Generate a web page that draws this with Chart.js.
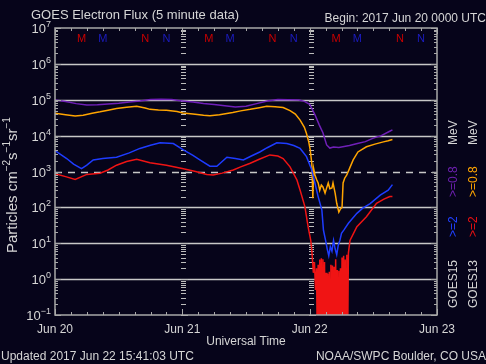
<!DOCTYPE html>
<html>
<head>
<meta charset="utf-8">
<script src="https://cdn.jsdelivr.net/npm/chart.js@4"></script>
<style>
  html, body { margin: 0; padding: 0; background: #06041a; }
  canvas { display: block; }
</style>
</head>
<body>
<canvas id="myChart" width="486" height="364"></canvas>
<script>
// time axis is hours since 2017 Jun 20 0000 UT
var dayLabels = ['Jun 20', 'Jun 21', 'Jun 22', 'Jun 23'];
var decades = [-1, 0, 1, 2, 3, 4, 5, 6, 7];

// GOES15 >=0.8 MeV
var purpleHours = [0, 2, 4, 6, 8, 10, 12, 14, 16, 18, 20, 22, 24, 26, 28, 30, 32, 34, 36, 38, 40, 42, 44, 46, 47, 48, 49, 49.8, 50.5, 51.2, 51.8, 52.5, 53.5, 54.5, 55.5, 57, 58.5, 60, 61.5, 63, 63.6];
var purpleFlux = [98000, 90000, 78000, 71000, 72000, 76000, 80000, 86000, 92000, 102000, 104000, 101000, 93000, 86000, 79000, 74000, 68000, 63000, 66000, 78000, 92000, 102000, 100000, 98000, 90000, 75000, 38000, 20000, 12000, 5500, 4500, 4800, 4700, 5000, 5300, 6000, 6800, 8500, 10000, 13000, 14500];

// GOES13 >=0.8 MeV
var orangeHours = [0, 2, 3.8, 5.3, 7, 8.5, 10, 11.6, 13.5, 15.4, 17, 17.9, 19.5, 21, 23, 24.1, 26, 28, 29.2, 31, 33.5, 35, 36.8, 38.5, 39.9, 41.5, 43, 44.3, 45.3, 46.2, 47, 47.4, 47.8, 48.1, 48.4, 48.6, 48.75, 49.0, 49.3, 49.6, 49.9, 50.2, 50.5, 50.9, 51.2, 51.5, 51.8, 52.2, 52.4, 52.8, 53.1, 53.5, 53.8, 54.1, 54.3, 54.6, 55, 55.6, 56.2, 57.1, 58.7, 60.3, 61.9, 62.8, 63.6];
var orangeFlux = [42000, 38000, 35000, 37000, 42000, 46000, 51000, 57000, 62000, 66000, 59000, 54000, 52000, 51000, 47000, 43000, 40000, 37000, 36000, 38000, 44000, 49000, 54000, 60000, 66000, 64000, 61000, 50000, 40000, 27000, 17000, 11500, 7000, 4000, 1700, 180, 1200, 800, 600, 480, 300, 420, 370, 250, 350, 480, 330, 350, 480, 250, 130, 74, 90, 100, 480, 650, 800, 1300, 2100, 3500, 4900, 5800, 6700, 7200, 7800];

// GOES15 >=2 MeV
var blueHours = [0, 2.2, 3.5, 5, 6, 7.2, 9, 11.6, 14, 16, 18, 19.8, 22.3, 24.2, 26, 27.3, 29.2, 30.5, 32.4, 34, 35.5, 37, 38.6, 40, 41.8, 43.7, 45, 46.2, 47.4, 48.4, 49, 49.6, 50.3, 50.6, 51.0, 51.3, 51.6, 51.9, 52.2, 52.5, 52.8, 53.1, 53.4, 53.7, 54, 54.5, 55.3, 56.9, 58, 59.4, 61.3, 62.8, 63.6];
var blueFlux = [3800, 2300, 1600, 1200, 1500, 2100, 2300, 2500, 3300, 4400, 5400, 6300, 6000, 4000, 2800, 2100, 1400, 1400, 2500, 2300, 2100, 2700, 3500, 4600, 6300, 6000, 5300, 4400, 2600, 1100, 470, 200, 84, 23, 12, 7, 4.5, 8, 6, 12, 7, 4.8, 9, 12, 19, 24, 36, 68, 95, 128, 220, 300, 430];

// GOES13 >=2 MeV (drops below the axis floor during the dropout)
var redHours = [0, 2, 3.8, 6, 8.5, 10, 11.6, 13.5, 15.4, 17.9, 21, 24.2, 26.5, 28.6, 29.8, 31.5, 33.6, 35, 36.8, 38.5, 40.5, 42, 43, 44.3, 45.6, 46.2, 47.1, 47.7, 48.2, 48.4, 48.7, 48.9, 49.1, 49.3, 49.45,
  49.6, 49.75, 49.9, 50.05, 50.2, 50.35, 50.5, 50.65, 50.8, 50.95, 51.1, 51.25, 51.4, 51.55, 51.7, 51.85, 52.0, 52.15, 52.3, 52.45, 52.6, 52.75, 52.9, 53.05, 53.2, 53.35, 53.5, 53.65, 53.8, 53.95, 54.1, 54.25, 54.4, 54.55, 54.7, 54.85, 55.0, 55.15,
  55.3, 55.6, 56.9, 58.7, 60.6, 62, 63.1, 63.6];
var redFlux = [860, 720, 600, 830, 890, 1100, 1500, 1900, 2200, 1750, 1500, 1200, 1000, 830, 800, 900, 1100, 1350, 1700, 2200, 2900, 2700, 2300, 1350, 580, 300, 105, 29, 12, 6.5, 1.5, 3.0, 0.5, 2.0, 0.01,
  2.5, 0.01, 3.5, 0.01, 3.8, 0.01, 3.6, 0.01, 3.0, 0.01, 1.5, 0.01, 1.4, 0.01, 1.6, 0.01, 2.5, 0.01, 2.4, 0.01, 2.2, 0.01, 3.6, 0.01, 1.8, 0.01, 1.7, 0.01, 2.0, 0.01, 4.0, 0.01, 4.5, 0.01, 3.5, 0.01, 4.8, 0.01,
  5.3, 12, 29, 55, 130, 170, 200, 200];

// local midnight / noon markers (GOES13 red, GOES15 blue)
var markerHours = [5, 9, 17, 21, 29, 33, 41, 45, 53, 57, 65, 69];
var markerText = ['M', 'M', 'N', 'N', 'M', 'M', 'N', 'N', 'M', 'M', 'N', 'N'];
var markerSat = [13, 15, 13, 15, 13, 15, 13, 15, 13, 15, 13, 15];

var BG = '#06041a';
var FG = '#d6d6d6';
var FONT = '"Liberation Sans", Arial, sans-serif';

function toPoints(hours, values) {
    return hours.map(function (h, i) { return { x: h, y: values[i] }; });
}

function line(ctx, x1, y1, x2, y2) {
    ctx.beginPath();
    ctx.moveTo(x1, y1);
    ctx.lineTo(x2, y2);
    ctx.stroke();
}

// draws a row of text pieces, each with its own size, colour and raise
function drawPieces(ctx, pieces, x, y) {
    pieces.forEach(function (p) {
        ctx.font = p.size + 'px ' + FONT;
        ctx.fillStyle = p.color || FG;
        ctx.fillText(p.t, x, y - (p.up || 0));
        x += ctx.measureText(p.t).width;
    });
}

var goesPlugin = {
    id: 'goes',
    beforeDraw: function (chart) {
        var ctx = chart.ctx;
        ctx.save();
        ctx.fillStyle = BG;
        ctx.fillRect(0, 0, chart.width, chart.height);
        ctx.restore();
    },
    beforeDatasetsDraw: function (chart) {
        var ctx = chart.ctx, a = chart.chartArea;
        var xs = chart.scales.x, ys = chart.scales.y;
        ctx.save();

        // decade grid lines, 10^3 dashed
        decades.forEach(function (d) {
            if (d <= -1 || d >= 7) return;
            var y = Math.round(ys.getPixelForValue(Math.pow(10, d))) + 0.5;
            ctx.strokeStyle = '#c8c8c8';
            ctx.lineWidth = d === 3 ? 1.5 : 1.5;
            ctx.setLineDash(d === 3 ? [7, 6] : []);
            line(ctx, a.left, y, a.right, y);
        });
        ctx.setLineDash([]);

        // tick ladders at day boundaries
        [24, 48].forEach(function (h) {
            var x = Math.round(xs.getPixelForValue(h));
            ctx.strokeStyle = '#bcbcbc';
            ctx.lineWidth = 1;
            decades.forEach(function (d) {
                if (d >= 7) return;
                for (var m = 1; m <= 9; m++) {
                    var y = Math.round(ys.getPixelForValue(m * Math.pow(10, d))) + 0.5;
                    line(ctx, x - 1, y, x + (m === 1 ? 6 : 4), y);
                }
            });
        });

        // M / N markers
        ctx.font = '11px ' + FONT;
        ctx.textAlign = 'center';
        ctx.textBaseline = 'middle';
        markerHours.forEach(function (h, i) {
            ctx.fillStyle = markerSat[i] === 13 ? '#c80000' : '#1c1cc0';
            ctx.fillText(markerText[i], xs.getPixelForValue(h), a.top + 11);
        });
        ctx.restore();
    },
    afterDatasetsDraw: function (chart) {
        var ctx = chart.ctx, a = chart.chartArea;
        var xs = chart.scales.x, ys = chart.scales.y;
        ctx.save();

        // frame
        ctx.strokeStyle = '#a8a8a8';
        ctx.lineWidth = 1.5;
        ctx.strokeRect(a.left, a.top, a.right - a.left, a.bottom - a.top);

        // y ticks on both sides
        ctx.lineWidth = 1;
        decades.forEach(function (d) {
            for (var m = 1; m <= 9; m++) {
                var v = m * Math.pow(10, d);
                if (v > 1e7 * 1.0001) break;
                var y = Math.round(ys.getPixelForValue(v)) + 0.5;
                var len = m === 1 ? 6 : 3;
                line(ctx, a.left, y, a.left + len, y);
                line(ctx, a.right, y, a.right - len, y);
            }
        });

        // x ticks every 3 hours top and bottom
        for (var h = 0; h <= 72; h += 3) {
            var x = Math.round(xs.getPixelForValue(h)) + 0.5;
            var len = h % 24 === 0 ? 6 : 3;
            line(ctx, x, a.bottom, x, a.bottom - len);
            line(ctx, x, a.top, x, a.top + len);
        }

        // y tick labels
        ctx.textAlign = 'left';
        ctx.textBaseline = 'alphabetic';
        decades.forEach(function (d) {
            var y = ys.getPixelForValue(Math.pow(10, d));
            var ex = d < 0 ? '\u2212' + (-d) : String(d);
            ctx.font = '9px ' + FONT;
            var ew = ctx.measureText(ex).width;
            ctx.font = '13px ' + FONT;
            var bw = ctx.measureText('10').width;
            var x0 = a.left - 4 - ew - bw;
            drawPieces(ctx, [{ t: '10', size: 13 }, { t: ex, size: 9, up: 6 }], x0, y + 5);
        });

        // x tick labels
        ctx.font = '12px ' + FONT;
        ctx.fillStyle = FG;
        ctx.textAlign = 'center';
        dayLabels.forEach(function (lab, i) {
            ctx.fillText(lab, xs.getPixelForValue(i * 24), a.bottom + 18);
        });
        ctx.fillText('Universal Time', (a.left + a.right) / 2, a.bottom + 30);

        // titles and footer
        ctx.font = '13px ' + FONT;
        ctx.textAlign = 'left';
        ctx.fillText('GOES Electron Flux (5 minute data)', 31, 19);
        ctx.font = '12px ' + FONT;
        ctx.textAlign = 'right';
        ctx.fillText('Begin: 2017 Jun 20 0000 UTC', 486, 22);
        ctx.fillText('NOAA/SWPC Boulder, CO USA', 486, 360);
        ctx.textAlign = 'left';
        ctx.fillText('Updated 2017 Jun 22 15:41:03 UTC', 1, 360);

        // rotated y axis title
        ctx.save();
        ctx.translate(17, 253);
        ctx.rotate(-Math.PI / 2);
        ctx.textAlign = 'left';
        drawPieces(ctx, [
            { t: 'Particles cm', size: 15 }, { t: '\u22122', size: 10, up: 7 },
            { t: 's', size: 15 }, { t: '\u22121', size: 10, up: 7 },
            { t: 'sr', size: 15 }, { t: '\u22121', size: 10, up: 7 }
        ], 0, 0);
        ctx.restore();

        // rotated legend on the right
        var cols = [
            { x: 457, items: [['GOES15', FG, 308], ['>=2', '#2040ff', 237], ['>=0.8', '#6c20b0', 197], ['MeV', FG, 145]] },
            { x: 477, items: [['GOES13', FG, 308], ['>=2', '#e81010', 237], ['>=0.8', '#ffa500', 197], ['MeV', FG, 145]] }
        ];
        cols.forEach(function (c) {
            c.items.forEach(function (it) {
                ctx.save();
                ctx.translate(c.x, it[2]);
                ctx.rotate(-Math.PI / 2);
                ctx.font = '12px ' + FONT;
                ctx.fillStyle = it[1];
                ctx.textAlign = 'left';
                ctx.fillText(it[0], 0, 0);
                ctx.restore();
            });
        });
        ctx.restore();
    }
};

document.addEventListener('DOMContentLoaded', function () {
    var ctx = document.getElementById('myChart').getContext('2d');
    var myChart = new Chart(ctx, {
        type: 'line',
        data: {
            datasets: [{
                label: 'GOES13 >=2 MeV',
                data: toPoints(redHours, redFlux),
                borderColor: '#f01414',
                borderWidth: 1.5
            }, {
                label: 'GOES15 >=2 MeV',
                data: toPoints(blueHours, blueFlux),
                borderColor: '#1e3cff',
                borderWidth: 1.5
            }, {
                label: 'GOES13 >=0.8 MeV',
                data: toPoints(orangeHours, orangeFlux),
                borderColor: '#ffa500',
                borderWidth: 1.5
            }, {
                label: 'GOES15 >=0.8 MeV',
                data: toPoints(purpleHours, purpleFlux),
                borderColor: '#7020b8',
                borderWidth: 1.5
            }]
        },
        options: {
            responsive: false,
            animation: false,
            parsing: true,
            elements: { point: { radius: 0 }, line: { tension: 0 } },
            layout: { padding: { left: 55, right: 49, top: 28, bottom: 49 } },
            scales: {
                x: { type: 'linear', min: 0, max: 72, display: false },
                y: { type: 'logarithmic', min: 0.1, max: 1e7, display: false }
            },
            plugins: { legend: { display: false }, tooltip: { enabled: false } }
        },
        plugins: [goesPlugin]
    });
});
</script>
</body>
</html>
